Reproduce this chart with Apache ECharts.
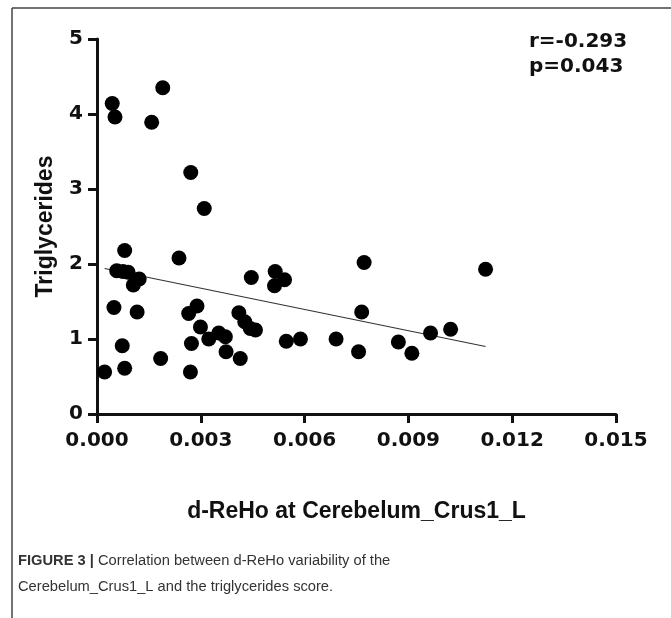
<!DOCTYPE html>
<html>
<head>
<meta charset="utf-8">
<script src="https://cdn.jsdelivr.net/npm/echarts@6/dist/echarts.min.js"></script>
<style>
  html, body { margin: 0; padding: 0; background: #fff; }
  #main { width: 671px; height: 618px; }
</style>
</head>
<body>
<div id="main"></div>
<script>
// d-ReHo values (x) and triglycerides (y)
const dReHo = [
  0.00044, 0.00052, 0.00190, 0.00158, 0.00271, 0.00310,
  0.00022, 0.00080, 0.00057, 0.00075, 0.00090, 0.00105, 0.00122,
  0.00049, 0.00116, 0.00073, 0.00080, 0.00184, 0.00237,
  0.00270, 0.00273, 0.00265, 0.00289, 0.00299, 0.00323, 0.00352,
  0.00371, 0.00373, 0.00414, 0.00410, 0.00427, 0.00443, 0.00458,
  0.00446, 0.00515, 0.00542, 0.00513, 0.00547, 0.00588, 0.00691,
  0.00756, 0.00765, 0.00772, 0.00871, 0.00910, 0.00964, 0.01022, 0.01123
];
const triglycerides = [
  4.14, 3.96, 4.35, 3.89, 3.22, 2.74,
  0.56, 2.18, 1.91, 1.90, 1.89, 1.72, 1.80,
  1.42, 1.36, 0.91, 0.61, 0.74, 2.08,
  0.56, 0.94, 1.34, 1.44, 1.16, 1.00, 1.08,
  1.03, 0.83, 0.74, 1.35, 1.23, 1.14, 1.12,
  1.82, 1.90, 1.79, 1.71, 0.97, 1.00, 1.00,
  0.83, 1.36, 2.02, 0.96, 0.81, 1.08, 1.13, 1.93
];
// fitted line end points as drawn in the figure
const fitLine = [[0.00022, 1.94], [0.01123, 0.90]];
const xTicks = ['0.000', '0.003', '0.006', '0.009', '0.012', '0.015'];
const statsText = ['r=-0.293', 'p=0.043'];

const chart = echarts.init(document.getElementById('main'));
const font = 'Liberation Sans, Arial, sans-serif';
const wide = 'DejaVu Sans, Verdana, sans-serif';

const points = dReHo.map((x, i) => [x, triglycerides[i]]);

const option = {
  backgroundColor: '#fff',
  animation: false,
  grid: { left: 97, right: 55, top: 39, bottom: 204 },
  xAxis: {
    type: 'value',
    min: 0, max: 0.015, interval: 0.003,
    name: 'd-ReHo at Cerebelum_Crus1_L',
    nameLocation: 'middle',
    nameGap: 86,
    nameTextStyle: { fontFamily: font, fontSize: 23, fontWeight: 'bold', color: '#111' },
    axisLine: { lineStyle: { color: '#111', width: 3 } },
    axisTick: { length: 9, lineStyle: { color: '#111', width: 3 } },
    axisLabel: {
      fontFamily: wide, fontSize: 20, fontWeight: 'bold', color: '#111', margin: 17,
      formatter: (v) => xTicks[Math.round(v / 0.003)]
    },
    splitLine: { show: false }
  },
  yAxis: {
    type: 'value',
    min: 0, max: 5, interval: 1,
    name: 'Triglycerides',
    nameLocation: 'middle',
    nameGap: 40,
    nameTextStyle: { fontFamily: font, fontSize: 23, fontWeight: 'bold', color: '#111' },
    axisLine: { show: true, lineStyle: { color: '#111', width: 3 } },
    axisTick: { show: true, length: 9, lineStyle: { color: '#111', width: 3 } },
    axisLabel: { fontFamily: wide, fontSize: 20, fontWeight: 'bold', color: '#111', margin: 14 },
    splitLine: { show: false }
  },
  series: [
    {
      type: 'line',
      data: fitLine,
      showSymbol: false,
      silent: true,
      lineStyle: { color: '#333', width: 1.2 },
      z: 3
    },
    {
      type: 'scatter',
      data: points,
      symbol: 'circle',
      symbolSize: 15,
      itemStyle: { color: '#000', opacity: 1 },
      z: 4
    }
  ],
  graphic: [
    // figure frame (top and left edges)
    { type: 'line', shape: { x1: 12, y1: 8, x2: 671, y2: 8 }, style: { stroke: '#444', lineWidth: 1.5 } },
    { type: 'line', shape: { x1: 12, y1: 8, x2: 12, y2: 618 }, style: { stroke: '#444', lineWidth: 1.5 } },
    {
      type: 'text', left: 529, top: 32,
      style: { text: statsText[0], font: 'bold 20px ' + wide, fill: '#111' }
    },
    {
      type: 'text', left: 529, top: 57,
      style: { text: statsText[1], font: 'bold 20px ' + wide, fill: '#111' }
    },
    {
      type: 'text', left: 18, top: 548,
      style: {
        text: '{b|FIGURE 3 |} Correlation between d-ReHo variability of the\nCerebelum_Crus1_L and the triglycerides score.',
        font: '14.7px ' + font,
        fill: '#333',
        lineHeight: 26,
        rich: {
          b: { font: 'bold 14.7px ' + font, fill: '#333', lineHeight: 26 }
        }
      }
    }
  ]
};

chart.setOption(option);
</script>
</body>
</html>
